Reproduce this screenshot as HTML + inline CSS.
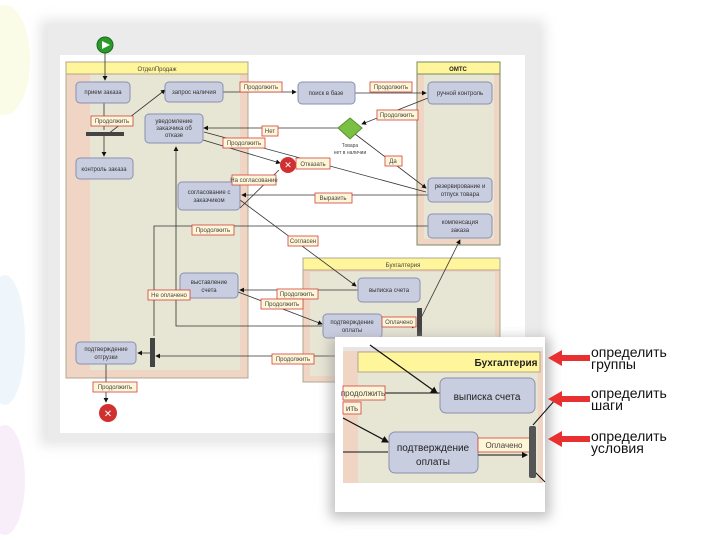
<!DOCTYPE html>
<html><head><meta charset="utf-8"><style>
body{margin:0;width:720px;height:540px;overflow:hidden;background:#fff;font-family:"Liberation Sans",sans-serif}
svg{display:block}
text{font-family:"Liberation Sans","DejaVu Sans",sans-serif}
.n{fill:#c9cde0;stroke:#8a90b0;stroke-width:1}
.nt{font-size:6px;fill:#333;text-anchor:middle}
.lb{fill:#fff6d8;stroke:#d04040;stroke-width:.8}
.lt{font-size:6px;fill:#444;text-anchor:middle}
.c{stroke:#333;stroke-width:.8;fill:none}
</style></head><body>
<svg width="720" height="540" viewBox="0 0 720 540">
<defs>
<marker id="a" markerWidth="6" markerHeight="6" refX="5" refY="3" orient="auto"><path d="M0,0L6,3L0,6z" fill="#111"/></marker>
<filter id="sh" x="-20%" y="-20%" width="140%" height="140%"><feGaussianBlur stdDeviation="6"/></filter>
</defs>
<!-- background blobs -->
<ellipse cx="5" cy="60" rx="25" ry="55" fill="#fafce8"/>
<ellipse cx="5" cy="340" rx="20" ry="65" fill="#eef6fc"/>
<ellipse cx="5" cy="480" rx="20" ry="55" fill="#f8eef9"/>
<!-- frame -->
<rect x="40" y="20" width="505" height="425" fill="#ccc" filter="url(#sh)" opacity=".5"/>
<rect x="48" y="25" width="490" height="415" fill="#ebebeb"/>
<rect x="60" y="55" width="465" height="378" fill="#fff"/>
<!-- lanes -->
<rect x="66" y="62" width="182" height="316" fill="#f0d5c4" stroke="#b0a890"/>
<rect x="90" y="74" width="150" height="296" fill="#e7e5d3"/>
<rect x="66" y="62" width="182" height="12" fill="#fff59a" stroke="#b0a890"/>
<text x="157" y="71" font-size="6" text-anchor="middle" fill="#444">ОтделПродаж</text>
<rect x="417" y="62" width="83" height="183" fill="#f0d5c4" stroke="#7a8a60"/>
<rect x="424" y="74" width="70" height="165" fill="#e7e5d3"/>
<rect x="417" y="62" width="83" height="12" fill="#fff59a" stroke="#7a8a60"/>
<text x="458" y="71" font-size="6" text-anchor="middle" fill="#222" font-weight="bold">ОМТС</text>
<rect x="303" y="258" width="197" height="124" fill="#f0d5c4" stroke="#b0a890"/>
<rect x="310" y="272" width="185" height="104" fill="#e7e5d3"/>
<rect x="303" y="258" width="197" height="12" fill="#fff59a" stroke="#b0a890"/>
<text x="403" y="267" font-size="6" text-anchor="middle" fill="#444">Бухгалтерия</text>
<!-- connectors -->
<path class="c" d="M105,53V80" marker-end="url(#a)"/>
<path class="c" d="M104,102V130"/>
<path class="c" d="M104,136V156" marker-end="url(#a)"/>
<path class="c" d="M108,134L165,90" marker-end="url(#a)"/>
<path class="c" d="M223,92H296" marker-end="url(#a)"/>
<path class="c" d="M355,93H426" marker-end="url(#a)"/>
<path class="c" d="M428,98L362,124" marker-end="url(#a)"/>
<path class="c" d="M338,128H204" marker-end="url(#a)"/>
<path class="c" d="M355,134L426,188" marker-end="url(#a)"/>
<path class="c" d="M426,192L204,132" />
<path class="c" d="M203,140L280,163" marker-end="url(#a)"/>
<path class="c" d="M428,195H242" marker-end="url(#a)"/>
<path class="c" d="M240,208L279,170" />
<path class="c" d="M240,200L356,286" marker-end="url(#a)"/>
<path class="c" d="M428,226H154V336"/>
<path class="c" d="M358,290H240" marker-end="url(#a)"/>
<path class="c" d="M238,292L322,324" marker-end="url(#a)"/>
<path class="c" d="M322,326H176V147" marker-end="url(#a)"/>
<path class="c" d="M382,326H416" marker-end="url(#a)"/>
<path class="c" d="M421,318L460,240" marker-end="url(#a)"/>
<path class="c" d="M340,356H156" marker-end="url(#a)"/>
<path class="c" d="M150,353H138" marker-end="url(#a)"/>
<path class="c" d="M106,364V402" marker-end="url(#a)"/>
<!-- nodes -->
<rect class="n" x="76" y="82" width="54" height="21" rx="4"/><text class="nt" x="103" y="94">прием заказа</text>
<rect class="n" x="165" y="82" width="58" height="20" rx="4"/><text class="nt" x="194" y="94">запрос наличия</text>
<rect class="n" x="145" y="114" width="58" height="29" rx="4"/><text class="nt" x="174" y="123">уведомление</text><text class="nt" x="174" y="130">заказчика об</text><text class="nt" x="174" y="137">отказе</text>
<rect x="86" y="132" width="38" height="4" fill="#444"/>
<rect class="n" x="76" y="158" width="57" height="21" rx="4"/><text class="nt" x="104" y="171">контроль заказа</text>
<rect class="n" x="178" y="182" width="62" height="28" rx="4"/><text class="nt" x="209" y="194">согласование с</text><text class="nt" x="209" y="202">заказчиком</text>
<rect class="n" x="180" y="273" width="58" height="25" rx="4"/><text class="nt" x="209" y="284">выставление</text><text class="nt" x="209" y="292">счета</text>
<rect class="n" x="76" y="342" width="60" height="22" rx="4"/><text class="nt" x="106" y="351">подтверждение</text><text class="nt" x="106" y="359">отгрузки</text>
<rect x="150" y="338" width="5" height="29" fill="#444"/>
<rect class="n" x="298" y="82" width="57" height="22" rx="4"/><text class="nt" x="326" y="95">поиск в базе</text>
<rect class="n" x="428" y="82" width="64" height="22" rx="4"/><text class="nt" x="460" y="95">ручной контроль</text>
<path d="M350,118L362,128L350,139L338,128z" fill="#7ac043" stroke="#5a9030"/>
<text x="350" y="147" font-size="5" text-anchor="middle" fill="#444">Товара</text><text x="350" y="154" font-size="5" text-anchor="middle" fill="#444">нет в наличии</text>
<rect class="n" x="428" y="178" width="64" height="24" rx="4"/><text class="nt" x="460" y="188">резервирование и</text><text class="nt" x="460" y="196">отпуск товара</text>
<rect class="n" x="428" y="214" width="64" height="24" rx="4"/><text class="nt" x="460" y="224">компенсация</text><text class="nt" x="460" y="232">заказа</text>
<rect class="n" x="358" y="278" width="62" height="24" rx="4"/><text class="nt" x="389" y="292">выписка счета</text>
<rect class="n" x="323" y="314" width="59" height="24" rx="4"/><text class="nt" x="352" y="324">подтверждение</text><text class="nt" x="352" y="332">оплаты</text>
<rect x="417" y="308" width="5" height="28" fill="#444"/>
<!-- start/end -->
<circle cx="105" cy="45" r="8" fill="#2a9a2a" stroke="#1a6a1a"/><path d="M102,41L110,45L102,49z" fill="#fff"/>
<circle cx="288" cy="165" r="8" fill="#d03030"/><text x="288" y="168" font-size="9" fill="#fff" text-anchor="middle" font-weight="bold">✕</text>
<circle cx="108" cy="413" r="9" fill="#d03030"/><text x="108" y="417" font-size="10" fill="#fff" text-anchor="middle" font-weight="bold">✕</text>
<!-- labels -->
<g>
<rect class="lb" x="240" y="82" width="42" height="10"/><text class="lt" x="261" y="89">Продолжить</text>
<rect class="lb" x="370" y="82" width="42" height="10"/><text class="lt" x="391" y="89">Продолжить</text>
<rect class="lb" x="377" y="110" width="41" height="10"/><text class="lt" x="397" y="117">Продолжить</text>
<rect class="lb" x="91" y="116" width="42" height="10"/><text class="lt" x="112" y="123">Продолжить</text>
<rect class="lb" x="262" y="126" width="16" height="10"/><text class="lt" x="270" y="133">Нет</text>
<rect class="lb" x="223" y="138" width="42" height="10"/><text class="lt" x="244" y="145">Продолжить</text>
<rect class="lb" x="296" y="158" width="34" height="11"/><text class="lt" x="313" y="166">Отказать</text>
<rect class="lb" x="385" y="156" width="17" height="10"/><text class="lt" x="393" y="163">Да</text>
<rect class="lb" x="232" y="175" width="44" height="10"/><text class="lt" x="254" y="182">На согласование</text>
<rect class="lb" x="315" y="193" width="37" height="10"/><text class="lt" x="333" y="200">Выразить</text>
<rect class="lb" x="192" y="225" width="42" height="10"/><text class="lt" x="213" y="232">Продолжить</text>
<rect class="lb" x="288" y="236" width="30" height="10"/><text class="lt" x="303" y="243">Согласен</text>
<rect class="lb" x="277" y="289" width="41" height="10"/><text class="lt" x="297" y="296">Продолжить</text>
<rect class="lb" x="261" y="299" width="42" height="10"/><text class="lt" x="282" y="306">Продолжить</text>
<rect class="lb" x="148" y="290" width="42" height="10"/><text class="lt" x="169" y="297">Не оплачено</text>
<rect class="lb" x="382" y="317" width="34" height="10"/><text class="lt" x="399" y="324">Оплачено</text>
<rect class="lb" x="272" y="354" width="42" height="10"/><text class="lt" x="293" y="361">Продолжить</text>
<rect class="lb" x="93" y="382" width="44" height="10"/><text class="lt" x="115" y="389">Продолжить</text>
</g>
<!-- inset -->
<rect x="330" y="338" width="220" height="180" fill="#999" filter="url(#sh)" opacity=".6"/>
<rect x="335" y="337" width="210" height="175" fill="#fff"/>
<rect x="343" y="347" width="200" height="136" fill="#f0d5c4"/>
<rect x="358" y="372" width="180" height="111" fill="#e7e5d3"/>
<rect x="343" y="347" width="200" height="4" fill="#e6e6e6"/>
<rect x="358" y="352" width="182" height="20" fill="#fff59a" stroke="#b0a890"/>
<text x="506" y="366" font-size="10" text-anchor="middle" fill="#222" font-weight="bold">Бухгалтерия</text>
<path d="M370,345L437,393" stroke="#111" stroke-width="1.2" marker-end="url(#a)"/>
<path d="M343,393H440" stroke="#111" stroke-width="1"/>
<path d="M343,418L388,442" stroke="#111" stroke-width="1.2" marker-end="url(#a)"/>
<path d="M343,452H388" stroke="#111" stroke-width="1"/>
<path d="M533,425L555,400" stroke="#111" stroke-width="1"/>
<path d="M533,470L545,482" stroke="#111" stroke-width="1"/>
<rect class="lb" x="343" y="386" width="42" height="14"/><text x="363" y="396" font-size="8" fill="#444" text-anchor="middle">продолжить</text>
<rect class="lb" x="343" y="402" width="18" height="12"/><text x="352" y="411" font-size="8" fill="#444" text-anchor="middle">ить</text>
<rect class="n" x="440" y="378" width="95" height="35" rx="6"/><text x="487" y="400" font-size="10" text-anchor="middle" fill="#222">выписка счета</text>
<rect class="n" x="389" y="432" width="89" height="41" rx="6"/><text x="433" y="451" font-size="10" text-anchor="middle" fill="#222">подтверждение</text><text x="433" y="465" font-size="10" text-anchor="middle" fill="#222">оплаты</text>
<rect x="478" y="438" width="52" height="14" fill="#fff6d8" stroke="#d04040" stroke-width=".8"/><text x="504" y="448" font-size="8" fill="#444" text-anchor="middle">Оплачено</text>
<path d="M478,455H527" stroke="#111" stroke-width="1" marker-end="url(#a)"/>
<rect x="529" y="426" width="7" height="52" rx="2" fill="#555"/>
<!-- red arrows -->
<g fill="#e83030">
<path d="M560,355V361H590V355z"/><path d="M548,358L562,350V366z"/>
<path d="M560,396V402H590V396z"/><path d="M548,399L562,391V407z"/>
<path d="M560,436V442H590V436z"/><path d="M548,439L562,431V447z"/>
</g>
<g font-size="14" fill="#111">
<text x="591" y="357">определить</text><text x="591" y="369">группы</text>
<text x="591" y="398">определить</text><text x="591" y="410">шаги</text>
<text x="591" y="441">определить</text><text x="591" y="453">условия</text>
</g>
</svg>
</body></html>
